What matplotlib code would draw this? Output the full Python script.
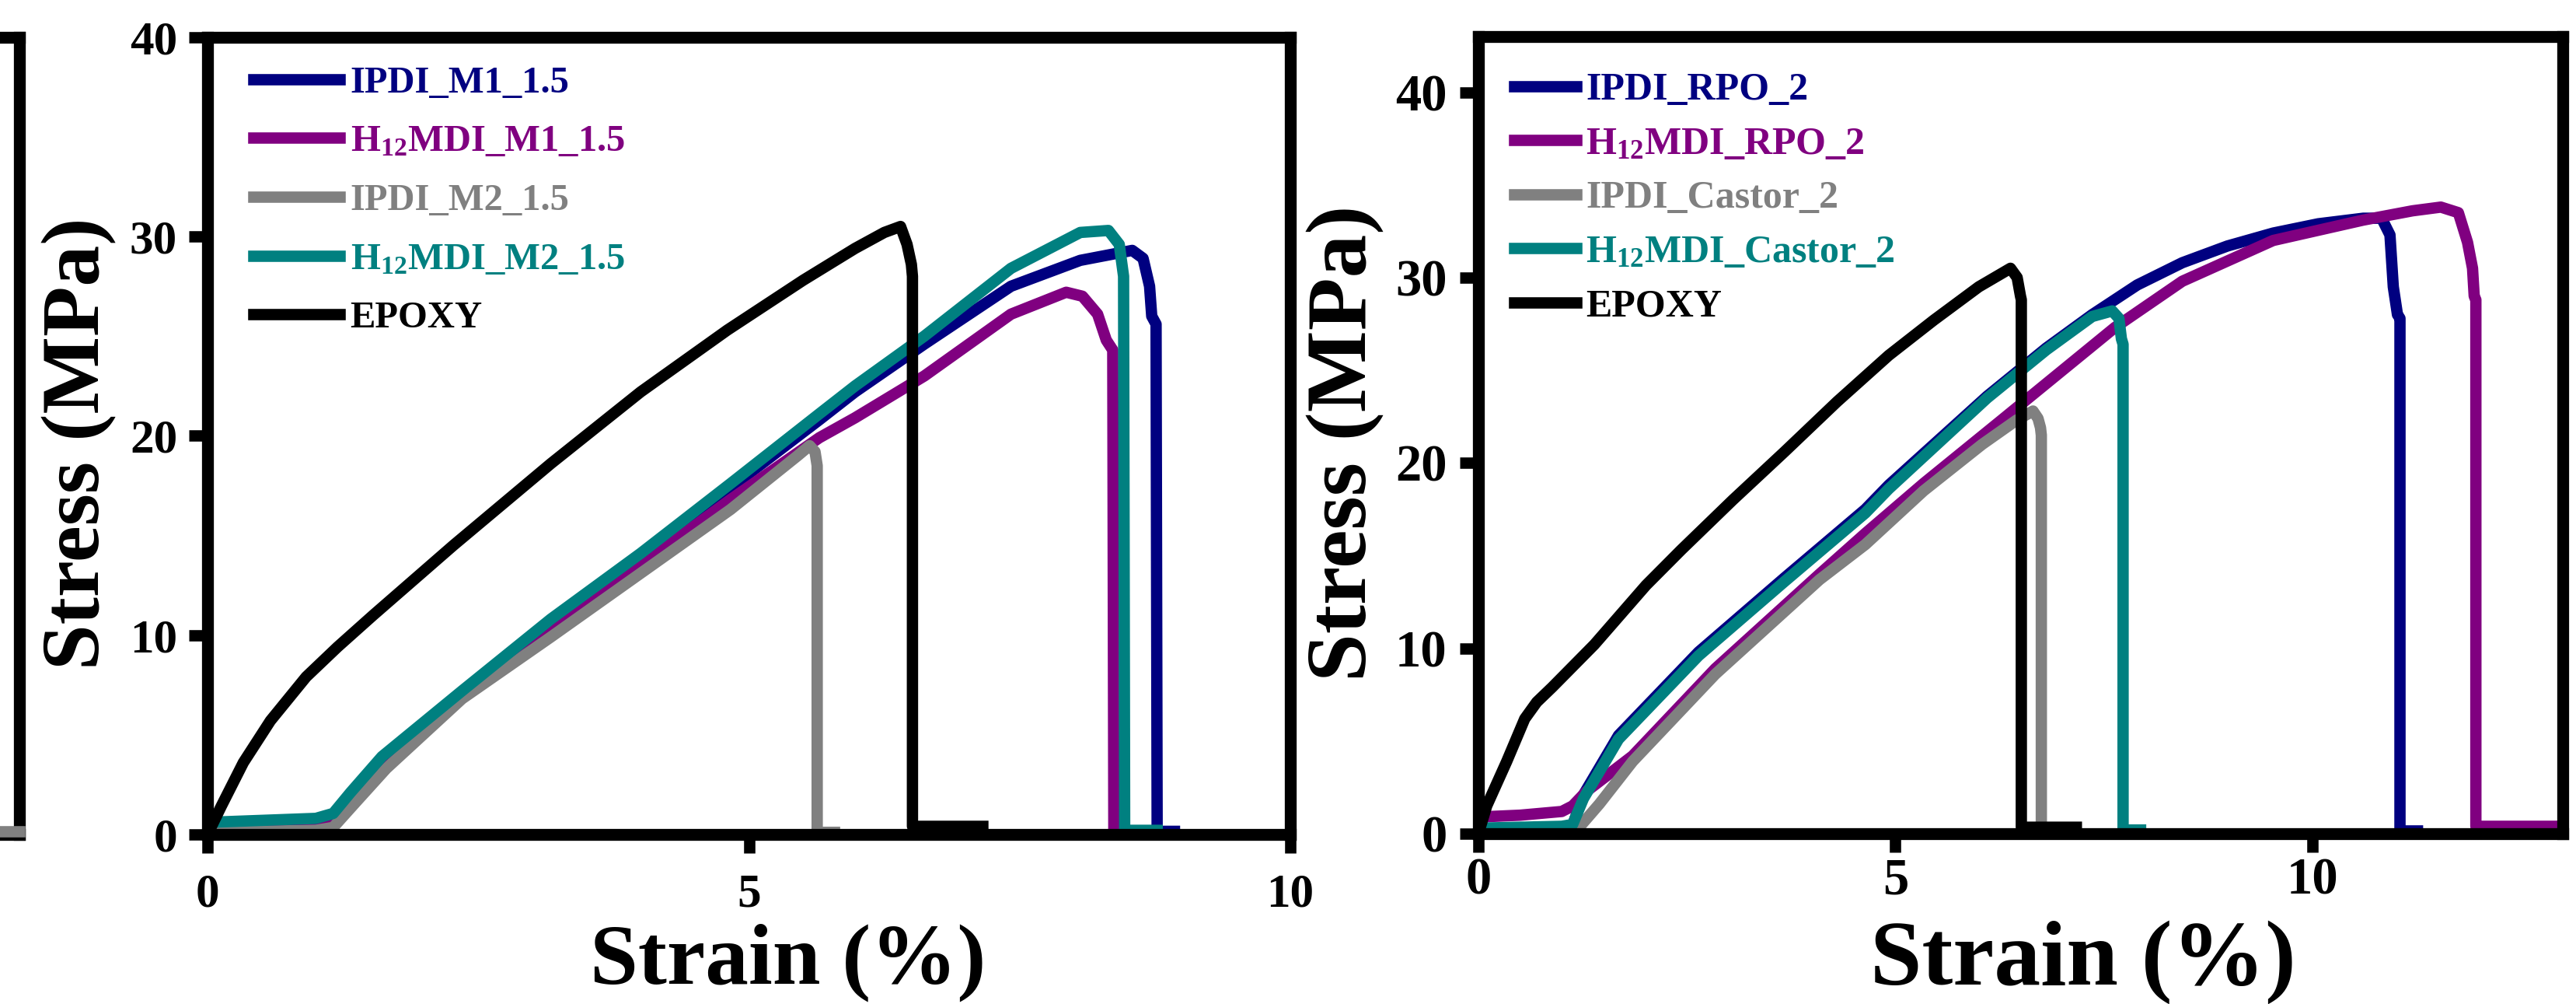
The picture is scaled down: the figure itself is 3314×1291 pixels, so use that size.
import matplotlib
matplotlib.use('Agg')
import matplotlib.pyplot as plt

plt.rcParams['font.family'] = 'Liberation Serif'
plt.rcParams['font.weight'] = 'bold'
plt.rcParams['axes.labelweight'] = 'bold'
plt.rcParams['mathtext.fontset'] = 'custom'
plt.rcParams['mathtext.rm'] = 'Liberation Serif:bold'
plt.rcParams['mathtext.it'] = 'Liberation Serif:bold'
plt.rcParams['mathtext.bf'] = 'Liberation Serif:bold'
plt.rcParams['mathtext.default'] = 'rm'

colors = ['#000080', '#800080', '#808080', '#008080', '#000000']

# ---- left panel: M1 / M2 series
labels1 = ['IPDI_M1_1.5', r'H$_{12}$MDI_M1_1.5', 'IPDI_M2_1.5',
           r'H$_{12}$MDI_M2_1.5', 'EPOXY']

ipdi_m1_x = [0, 0.5, 1.0, 1.16, 1.32, 1.61, 2.35, 3.17, 4.0, 4.83, 5.65, 5.98,
             6.62, 7.42, 8.06, 8.54, 8.64, 8.70, 8.72, 8.76, 8.77, 8.93]
ipdi_m1_y = [0.4, 0.5, 0.6, 0.9, 2.0, 3.8, 7.1, 10.7, 14.0, 17.4, 20.8, 22.2,
             24.6, 27.5, 28.8, 29.3, 28.9, 27.5, 26.0, 25.6, 0.15, 0.15]

h12_m1_x = [0, 0.5, 1.0, 1.16, 1.32, 1.61, 2.35, 3.17, 4.0, 4.83, 5.65, 5.98,
            6.62, 7.42, 7.93, 8.08, 8.22, 8.30, 8.36, 8.37]
h12_m1_y = [0.5, 0.55, 0.65, 0.9, 1.8, 3.5, 6.9, 10.2, 13.5, 16.8, 19.9, 20.9,
            23.0, 26.1, 27.2, 27.0, 26.1, 24.8, 24.3, 0.0]

ipdi_m2_x = [0, 0.5, 1.0, 1.16, 1.35, 1.65, 2.35, 3.17, 4.0, 4.83, 5.45, 5.56,
             5.61, 5.63, 5.63, 5.79]
ipdi_m2_y = [0.1, 0.15, 0.2, 0.35, 1.5, 3.3, 6.8, 9.9, 13.1, 16.3, 19.0, 19.5,
             19.2, 18.5, 0.1, 0.1]

h12_m2_x = [0, 0.5, 1.0, 1.16, 1.32, 1.61, 2.35, 3.17, 4.0, 4.83, 5.65, 5.98,
            6.62, 7.42, 8.06, 8.32, 8.42, 8.46, 8.47, 8.77]
h12_m2_y = [0.6, 0.7, 0.8, 1.05, 2.1, 3.9, 7.2, 10.8, 14.1, 17.6, 21.1, 22.5,
            25.0, 28.4, 30.2, 30.3, 29.6, 28.0, 0.2, 0.2]

epoxy1_x = [0, 0.125, 0.33, 0.58, 0.91, 1.2, 1.53, 2.27, 3.17, 4.0, 4.8, 5.5,
            5.98, 6.25, 6.40, 6.46, 6.50, 6.51, 6.51, 7.16]
epoxy1_y = [0, 1.4, 3.6, 5.7, 7.9, 9.4, 11.0, 14.5, 18.6, 22.2, 25.3, 27.8,
            29.4, 30.2, 30.5, 29.6, 28.6, 28.0, 0.4, 0.4]

# ---- right panel: RPO / Castor series
labels2 = ['IPDI_RPO_2', r'H$_{12}$MDI_RPO_2', 'IPDI_Castor_2',
           r'H$_{12}$MDI_Castor_2', 'EPOXY']

ipdi_rpo_x = [0, 0.5, 1.0, 1.13, 1.26, 1.68, 2.64, 3.67, 4.64, 4.92, 6.10, 6.81,
              7.36, 7.90, 8.44, 8.98, 9.53, 10.07, 10.61, 10.83, 10.93, 10.97,
              11.02, 11.05, 11.05, 11.26]
ipdi_rpo_y = [0.2, 0.25, 0.3, 0.45, 2.1, 5.3, 9.8, 13.8, 17.5, 18.8, 23.6, 26.2,
              28.0, 29.6, 30.8, 31.7, 32.4, 32.9, 33.2, 33.2, 32.3, 29.5,
              28.0, 27.8, 0.15, 0.15]

h12_rpo_x = [0, 0.5, 1.0, 1.13, 1.30, 1.85, 2.84, 4.09, 4.64, 5.34, 6.27, 7.63,
             8.44, 9.53, 10.61, 11.2, 11.54, 11.75, 11.86, 11.92, 11.94, 11.96,
             11.96, 13.0]
h12_rpo_y = [0.9, 1.0, 1.2, 1.5, 2.3, 4.2, 8.9, 14.0, 16.2, 18.9, 22.3, 27.3,
             29.8, 32.0, 33.1, 33.6, 33.8, 33.5, 31.9, 30.5, 29.0, 28.8,
             0.4, 0.4]

ipdi_castor_x = [0, 0.5, 1.0, 1.2, 1.45, 1.85, 2.84, 4.09, 4.64, 5.34, 6.04, 6.45,
                 6.65, 6.71, 6.74, 6.75, 6.75, 6.8]
ipdi_castor_y = [0.1, 0.15, 0.2, 0.3, 1.6, 3.9, 8.6, 13.7, 15.6, 18.5, 21.0, 22.3,
                 22.8, 22.4, 21.9, 21.5, 0.1, 0.1]

h12_castor_x = [0, 0.5, 1.0, 1.13, 1.26, 1.68, 2.64, 3.67, 4.64, 4.92, 6.10, 6.81,
                7.36, 7.60, 7.68, 7.71, 7.73, 7.73, 7.94]
h12_castor_y = [0.3, 0.35, 0.4, 0.5, 1.9, 5.1, 9.6, 13.6, 17.3, 18.6, 23.5, 26.1,
                27.9, 28.2, 27.8, 26.7, 26.4, 0.2, 0.2]

epoxy2_x = [0, 0.1, 0.34, 0.556, 0.7, 0.885, 1.39, 2.01, 2.43, 3.05, 3.67, 4.30,
            4.92, 5.46, 6.0, 6.38, 6.46, 6.50, 6.51, 6.51, 7.17]
epoxy2_y = [0, 1.5, 3.9, 6.2, 7.1, 7.9, 10.2, 13.4, 15.3, 18.0, 20.6, 23.3,
            25.8, 27.7, 29.5, 30.5, 30.0, 29.0, 28.8, 0.35, 0.35]

# cut-off panel at the far left edge
edge_x = [9.0, 10.0]
edge_y = [0.15, 0.15]

fig = plt.figure(figsize=(33.14, 12.91), dpi=100)

LW = 10.5
SPINE = 11


def style(ax, xlim, ylim, xticks, yticks, fs, xpad, ypad):
    ax.set_xlim(xlim)
    ax.set_ylim(ylim)
    ax.set_xticks(xticks)
    ax.set_yticks(yticks)
    for s in ax.spines.values():
        s.set_linewidth(SPINE)
    ax.tick_params(direction='out', length=17, width=10.5, labelsize=fs)
    ax.tick_params(axis='x', pad=xpad)
    ax.tick_params(axis='y', pad=ypad)


# partial panel (mostly outside the figure)
ax0 = fig.add_axes([-0.3, 0.169, 0.3075, 0.794])
ax0.plot(edge_x, edge_y, color='#808080', lw=LW, zorder=3, clip_on=False)
style(ax0, (0, 10), (0, 40), [], [], 40, 10, 10)

# panel 1
ax1 = fig.add_axes([0.0806, 0.169, 0.4203, 0.794])
data1 = [(ipdi_m1_x, ipdi_m1_y), (h12_m1_x, h12_m1_y), (ipdi_m2_x, ipdi_m2_y),
         (h12_m2_x, h12_m2_y), (epoxy1_x, epoxy1_y)]
for (x, y), c, lab in zip(data1, colors, labels1):
    ax1.plot(x, y, color=c, lw=LW, label=lab)
style(ax1, (0, 10), (0, 40), [0, 5, 10], [0, 10, 20, 30, 40], 44, 19, 11)
ax1.set_xlabel('Strain (%)', fontsize=80)
ax1.set_ylabel('Stress (MPa)', fontsize=76)
ax1.xaxis.set_label_coords(0.536, -0.112)
ax1.yaxis.set_label_coords(-0.084, 0.49)
leg1 = ax1.legend(loc='upper left', bbox_to_anchor=(0.042, 0.964), frameon=False,
                  fontsize=35, handlelength=2.3, handletextpad=0.27,
                  labelspacing=0.65, borderpad=0, borderaxespad=0)
for t, c in zip(leg1.get_texts(), colors):
    t.set_color(c)

# panel 2
ax2 = fig.add_axes([0.5739, 0.1696, 0.4209, 0.794])
data2 = [(ipdi_rpo_x, ipdi_rpo_y), (h12_rpo_x, h12_rpo_y),
         (ipdi_castor_x, ipdi_castor_y), (h12_castor_x, h12_castor_y),
         (epoxy2_x, epoxy2_y)]
for (x, y), c, lab in zip(data2, colors, labels2):
    ax2.plot(x, y, color=c, lw=LW, label=lab)
style(ax2, (0, 13), (0, 43), [0, 5, 10], [0, 10, 20, 30, 40], 48, 5, 12)
ax2.set_xlabel('Strain (%)', fontsize=86)
ax2.set_ylabel('Stress (MPa)', fontsize=80)
ax2.xaxis.set_label_coords(0.558, -0.108)
ax2.yaxis.set_label_coords(-0.087, 0.49)
leg2 = ax2.legend(loc='upper left', bbox_to_anchor=(0.033, 0.955), frameon=False,
                  fontsize=36, handlelength=1.6, handletextpad=0.24,
                  labelspacing=0.47, borderpad=0, borderaxespad=0)
for t, c in zip(leg2.get_texts(), colors):
    t.set_color(c)

fig.savefig('out.png', dpi=100)
